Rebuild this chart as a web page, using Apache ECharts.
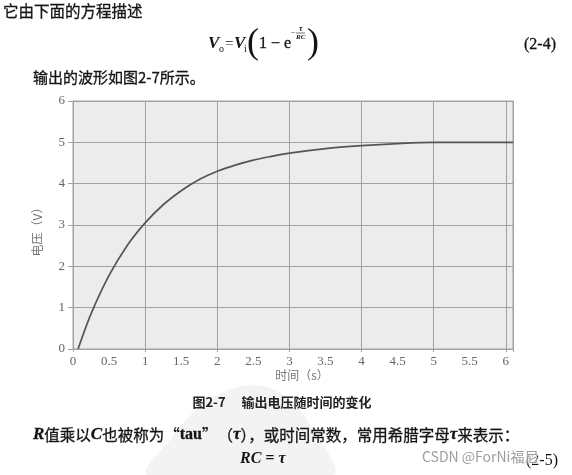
<!DOCTYPE html>
<html>
<head>
<meta charset="utf-8">
<script src="https://cdn.jsdelivr.net/npm/echarts@6/dist/echarts.min.js"></script>
<style>
html,body{margin:0;padding:0;background:#fff;}
#c{width:572px;height:475px;}
</style>
</head>
<body>
<div id="c"></div>
<script>
// Data
var timeValues = [0.07, 0.25, 0.5, 0.75, 1.0, 1.25, 1.5, 1.75, 2.0, 2.25, 2.5, 2.75, 3.0, 3.5, 4.0, 4.5, 5.0, 5.5, 6.1];
var voltageValues = [0, 0.85, 1.78, 2.5, 3.05, 3.49, 3.83, 4.1, 4.3, 4.45, 4.57, 4.66, 4.74, 4.85, 4.92, 4.97, 5.0, 5.0, 5.0];
var xTickLabels = ['0','0.5','1','1.5','2','2.5','3','3.5','4','4.5','5','5.5','6'];
var yTickLabels = ['0','1','2','3','4','5','6'];
var xAxisTitle = '时间（s）';
var yAxisTitle = '电压（V）';
var captionText = '图2-7\u3000 输出电压随时间的变化';
var introText = '它由下面的方程描述';
var afterText = '输出的波形如图2-7所示。';
var bottomRich = '{i|R}值乘以{i|C}也被称为“{b|tau}”（{i|τ}），或时间常数，常用希腊字母{i|τ}来表示：';

var seriesData = timeValues.map(function (t, i) { return [t, voltageValues[i]]; });

var CJK = '"Noto Sans CJK SC", sans-serif';
var SERIF = '"Liberation Serif", "DejaVu Serif", serif';
var gridCol = '#a2a2a2';
var ink = '#141414';

function txt(text, x, y, font, extra) {
  var s = {text: text, x: x, y: y, font: font, fill: ink, textVerticalAlign: 'middle'};
  if (extra) for (var k in extra) s[k] = extra[k];
  return {type: 'text', style: s};
}

var chart = echarts.init(document.getElementById('c'), null, {renderer: 'canvas'});
chart.setOption({
  backgroundColor: '#ffffff',
  animation: false,
  grid: {
    left: 73, top: 101, width: 440, height: 248,
    show: true, backgroundColor: '#ececec', borderColor: gridCol, borderWidth: 1
  },
  xAxis: [{
    type: 'value', min: 0, max: 6.1, interval: 0.5,
    axisLine: {show: true, lineStyle: {color: gridCol, width: 1}},
    axisTick: {show: false},
    splitLine: {show: false},
    axisLabel: {
      show: true, margin: 6, showMaxLabel: false,
      color: '#666', fontFamily: SERIF, fontSize: 13,
      formatter: function (v) { var s = String(v); return xTickLabels.indexOf(s) >= 0 ? s : ''; }
    }
  }, {
    type: 'value', min: 0, max: 6.1, interval: 1, position: 'bottom',
    axisLine: {show: false},
    axisTick: {show: true, length: 3, lineStyle: {color: gridCol}},
    axisLabel: {show: false},
    splitLine: {show: true, lineStyle: {color: gridCol, width: 1}}
  }],
  yAxis: {
    type: 'value', min: 0, max: 6, interval: 1,
    axisLine: {show: true, lineStyle: {color: gridCol, width: 1}},
    axisTick: {show: true, length: 5, lineStyle: {color: gridCol}},
    splitLine: {show: true, lineStyle: {color: gridCol, width: 1}},
    axisLabel: {
      margin: 8, color: '#666', fontFamily: SERIF, fontSize: 13,
      formatter: function (v) { var s = String(v); return yTickLabels.indexOf(s) >= 0 ? s : ''; }
    }
  },
  series: [{
    type: 'line', xAxisIndex: 0, yAxisIndex: 0,
    data: seriesData, smooth: 0.3, showSymbol: false,
    lineStyle: {color: '#555555', width: 1.7}
  }],
  graphic: [
    // faint seal watermark
    {type: 'polygon', z: -1, shape: {points: [[148,475],[170,440],[196,410],[228,390],[262,386],[290,400],[312,428],[332,475]], smooth: 0.35},
     style: {fill: '#f3f3f3'}},
    txt(introText, 3, 11, '15.5px ' + CJK, {stroke: ink, lineWidth: 0.3}),
    // equation (2-4)
    txt('V', 208, 44, 'italic bold 17px ' + SERIF),
    txt('o', 219, 49, '10px ' + SERIF),
    txt('=', 225, 44, '15px ' + SERIF),
    txt('V', 234, 44, 'italic bold 17px ' + SERIF),
    txt('i', 244, 49, '10px ' + SERIF),
    txt('(', 247, 44, '36px ' + SERIF),
    txt('1 − e', 259, 44, '16px ' + SERIF, {stroke: ink, lineWidth: 0.3}),
    txt('−', 291, 33, '8px ' + SERIF),
    txt('τ', 299, 29, 'italic bold 8px ' + SERIF),
    {type: 'line', shape: {x1: 296, y1: 33, x2: 305, y2: 33}, style: {stroke: ink, lineWidth: 0.6}},
    txt('RC', 296, 37.5, 'italic bold 7px ' + SERIF),
    txt(')', 307, 44, '36px ' + SERIF),
    txt('(2-4)', 556, 45, '16px ' + SERIF, {textAlign: 'right', stroke: ink, lineWidth: 0.3}),
    txt(afterText, 33, 77, '15px ' + CJK, {stroke: ink, lineWidth: 0.3}),
    // axis titles
    {type: 'text', rotation: Math.PI / 2, x: 37, y: 229, style: {text: yAxisTitle, x: 0, y: 0, font: '12px ' + CJK, fill: '#777', textAlign: 'center', textVerticalAlign: 'middle'}},
    {type: 'text', style: {text: xAxisTitle, x: 302, y: 375, font: '12px ' + CJK, fill: '#777', textAlign: 'center', textVerticalAlign: 'middle'}},
    // caption
    {type: 'text', style: {text: captionText, x: 282, y: 402, font: 'bold 13px ' + CJK, fill: '#222', textAlign: 'center', textVerticalAlign: 'middle'}},
    // bottom text
    {type: 'text', style: {
      text: bottomRich, x: 33, y: 435, font: '15.5px ' + CJK, fill: ink, stroke: ink, lineWidth: 0.3, textVerticalAlign: 'middle',
      rich: {
        i: {fontFamily: SERIF, fontStyle: 'italic', fontWeight: 'bold', fontSize: 17, fill: ink},
        b: {fontFamily: SERIF, fontWeight: 'bold', fontSize: 16, fill: ink}
      }
    }},
    txt('RC = τ', 240, 459, 'italic bold 16px ' + SERIF),
    txt('(2-5)', 558, 461, '16px ' + SERIF, {textAlign: 'right'}),
    {type: 'text', style: {text: 'CSDN @ForNi福尼', x: 422, y: 457, font: '14px ' + CJK, fill: 'rgba(150,150,150,0.92)', stroke: 'rgba(255,255,255,0.6)', lineWidth: 2, textVerticalAlign: 'middle'}}
  ]
});
</script>
</body>
</html>
